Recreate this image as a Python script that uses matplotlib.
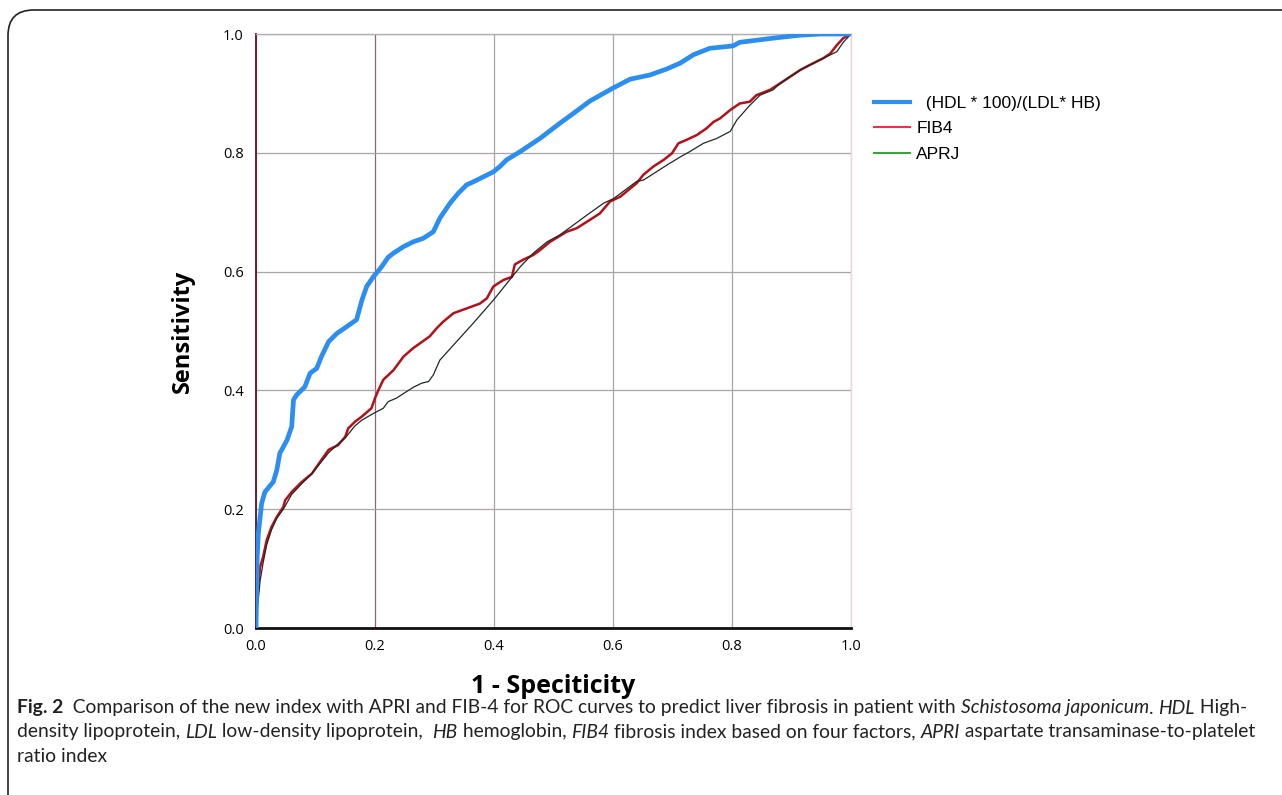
import matplotlib
matplotlib.use("Agg")
import matplotlib.pyplot as plt
from matplotlib.lines import Line2D
from matplotlib.patches import FancyBboxPatch

# ROC curves (1 - specificity, sensitivity)
new_fpr = [0, 0.001, 0.002, 0.004, 0.007, 0.0095, 0.015, 0.029, 0.035, 0.040, 0.052, 0.060,
           0.063, 0.068, 0.082, 0.091, 0.102, 0.110, 0.122, 0.136, 0.152, 0.169, 0.178, 0.186,
           0.197, 0.211, 0.222, 0.231, 0.248, 0.264, 0.281, 0.298, 0.309, 0.326, 0.340, 0.354,
           0.365, 0.399, 0.410, 0.421, 0.444, 0.477, 0.511, 0.533, 0.561, 0.600, 0.629, 0.662,
           0.690, 0.713, 0.735, 0.763, 0.802, 0.813, 0.869, 0.914, 0.95, 1.0]
new_tpr = [0, 0.06, 0.12, 0.16, 0.187, 0.21, 0.229, 0.246, 0.266, 0.294, 0.316, 0.339,
           0.384, 0.392, 0.406, 0.429, 0.437, 0.457, 0.482, 0.496, 0.507, 0.519, 0.552, 0.575,
           0.591, 0.608, 0.624, 0.631, 0.642, 0.650, 0.656, 0.667, 0.690, 0.715, 0.732, 0.746,
           0.751, 0.768, 0.777, 0.788, 0.802, 0.824, 0.850, 0.866, 0.887, 0.909, 0.924, 0.931,
           0.941, 0.951, 0.965, 0.976, 0.980, 0.986, 0.993, 0.998, 1.0, 1.0]

fib4_fpr = [0, 0.001, 0.007, 0.012, 0.018, 0.026, 0.035, 0.046, 0.049, 0.060, 0.077, 0.094,
            0.110, 0.122, 0.138, 0.150, 0.155, 0.166, 0.178, 0.194, 0.200, 0.206, 0.214, 0.231,
            0.248, 0.264, 0.292, 0.304, 0.315, 0.332, 0.354, 0.376, 0.388, 0.399, 0.416, 0.430,
            0.435, 0.449, 0.466, 0.477, 0.494, 0.522, 0.539, 0.561, 0.578, 0.595, 0.612, 0.640,
            0.651, 0.668, 0.685, 0.699, 0.710, 0.724, 0.741, 0.757, 0.769, 0.780, 0.797, 0.813,
            0.830, 0.841, 0.864, 0.881, 0.914, 0.931, 0.953, 0.965, 0.976, 0.987, 1.0]
fib4_tpr = [0, 0.047, 0.103, 0.12, 0.148, 0.17, 0.187, 0.204, 0.215, 0.229, 0.246, 0.26,
            0.283, 0.30, 0.308, 0.322, 0.336, 0.347, 0.356, 0.37, 0.387, 0.401, 0.418, 0.434,
            0.457, 0.471, 0.491, 0.505, 0.516, 0.53, 0.538, 0.546, 0.555, 0.575, 0.586, 0.591,
            0.612, 0.62, 0.628, 0.636, 0.65, 0.667, 0.673, 0.687, 0.698, 0.718, 0.726, 0.749,
            0.763, 0.777, 0.788, 0.799, 0.816, 0.822, 0.83, 0.841, 0.852, 0.858, 0.872, 0.883,
            0.886, 0.897, 0.906, 0.917, 0.939, 0.948, 0.959, 0.967, 0.981, 0.993, 1.0]

apri_fpr = [0, 0.002, 0.007, 0.012, 0.018, 0.026, 0.035, 0.046, 0.060, 0.077, 0.094, 0.110,
            0.122, 0.138, 0.150, 0.166, 0.178, 0.197, 0.214, 0.222, 0.236, 0.253, 0.264, 0.278,
            0.290, 0.298, 0.309, 0.337, 0.365, 0.399, 0.444, 0.466, 0.489, 0.511, 0.522, 0.556,
            0.584, 0.601, 0.640, 0.651, 0.673, 0.690, 0.713, 0.729, 0.752, 0.774, 0.797, 0.808,
            0.830, 0.847, 0.869, 0.881, 0.919, 0.953, 0.976, 0.987, 1.0]
apri_tpr = [0, 0.03, 0.08, 0.11, 0.14, 0.165, 0.185, 0.2, 0.225, 0.243, 0.26, 0.28,
            0.295, 0.31, 0.32, 0.34, 0.35, 0.361, 0.37, 0.381, 0.387, 0.398, 0.405, 0.412,
            0.415, 0.426, 0.451, 0.482, 0.513, 0.552, 0.608, 0.631, 0.65, 0.662, 0.67, 0.695,
            0.715, 0.723, 0.752, 0.754, 0.768, 0.779, 0.793, 0.802, 0.816, 0.824, 0.836, 0.855,
            0.88, 0.897, 0.906, 0.917, 0.942, 0.959, 0.970, 0.986, 1.0]

legend_labels = ["  (HDL * 100)/(LDL* HB)", "FIB4", "APRJ"]
ticks = [0.0, 0.2, 0.4, 0.6, 0.8, 1.0]
tick_labels = ["0.0", "0.2", "0.4", "0.6", "0.8", "1.0"]

fig = plt.figure(figsize=(12.82, 7.95), dpi=100)

# rounded frame (open to right and bottom)
frame = FancyBboxPatch((8 / 1282, -0.2), 1.2, 1 - 10 / 795 + 0.2,
                       boxstyle="round,pad=0,rounding_size=0.02",
                       transform=fig.transFigure, fill=False, ec="#222222", lw=1.2,
                       mutation_aspect=1282 / 795)
fig.patches.append(frame)

ax = fig.add_axes([256 / 1282, 1 - 628 / 795, 595 / 1282, 594 / 795])

ax.plot(fib4_fpr, fib4_tpr, color="#b3101a", lw=1.8, zorder=3)
ax.plot(apri_fpr, apri_tpr, color="#1e2a22", lw=0.9, zorder=4)
ax.plot(new_fpr, new_tpr, color="#2b8ef0", lw=3.4, zorder=5, solid_capstyle="round")

ax.set_xlim(0, 1)
ax.set_ylim(0, 1)
ax.set_xticks(ticks)
ax.set_yticks(ticks)
ax.set_xticklabels(tick_labels, family="Open Sans", fontsize=10.5)
ax.set_yticklabels(tick_labels, family="Open Sans", fontsize=10.5)
ax.tick_params(length=0)
ax.tick_params(axis="y", pad=9)
ax.tick_params(axis="x", pad=8)
ax.grid(True, color="#aaa4aa", lw=0.9)
ax.set_axisbelow(True)
ax.xaxis.get_gridlines()[1].set_color("#8c6474")

ax.spines["left"].set_color("#6b1f2a")
ax.spines["left"].set_linewidth(1.4)
ax.spines["bottom"].set_color("#111111")
ax.spines["bottom"].set_linewidth(2)
ax.spines["top"].set_color("#b0b0b0")
ax.spines["top"].set_linewidth(1)
ax.spines["right"].set_color("#ecd6d6")
ax.spines["right"].set_linewidth(1)

ax.set_ylabel("Sensitivity", family="Open Sans", fontweight="bold", fontsize=17, labelpad=20)
ax.set_xlabel("1 - Speciticity", family="Open Sans", fontweight="bold", fontsize=18, labelpad=14)

handles = [Line2D([], [], color="#2e8ff2", lw=3),
           Line2D([], [], color="#f03048", lw=1.5),
           Line2D([], [], color="#3aa43a", lw=1.5)]
fig.legend(handles, legend_labels, loc="upper left", bbox_to_anchor=(858 / 1282, 1 - 80 / 795),
           frameon=False, prop={"family": "Liberation Sans", "size": 12.5},
           handlelength=2.1, handletextpad=0.35, labelspacing=0.6)

# caption with mixed italic segments
caption = [
    [("Fig. 2", "bold"), ("  Comparison of the new index with APRI and FIB-4 for ROC curves to predict liver fibrosis in patient with ", "normal"),
     ("Schistosoma japonicum", "italic"), (". ", "normal"), ("HDL", "italic"), (" High-", "normal")],
    [("density lipoprotein, ", "normal"), ("LDL", "italic"), (" low-density lipoprotein,  ", "normal"),
     ("HB", "italic"), (" hemoglobin, ", "normal"), ("FIB4", "italic"),
     (" fibrosis index based on four factors, ", "normal"), ("APRI", "italic"),
     (" aspartate transaminase-to-platelet", "normal")],
    [("ratio index", "normal")],
]
cap_font = "Lato"
cap_size = 13.9
renderer = fig.canvas.get_renderer()


def seg_width(s, style):
    kw = dict(family=cap_font, fontsize=cap_size)
    if style == "bold":
        kw["fontweight"] = "bold"
    elif style == "italic":
        kw["style"] = "italic"
    t1 = fig.text(0, 0, s + "|", **kw)
    t2 = fig.text(0, 0, "|", **kw)
    w = t1.get_window_extent(renderer).width - t2.get_window_extent(renderer).width
    t1.remove()
    t2.remove()
    return w


line_y = [708, 732, 756]
for segs, yp in zip(caption, line_y):
    xp = 17
    for s, style in segs:
        kw = dict(family=cap_font, fontsize=cap_size, va="center", ha="left", color="#222222")
        if style == "bold":
            kw["fontweight"] = "bold"
        elif style == "italic":
            kw["style"] = "italic"
        fig.text(xp / 1282, 1 - yp / 795, s, **kw)
        xp += seg_width(s, style)

fig.savefig("out.png", dpi=100)
